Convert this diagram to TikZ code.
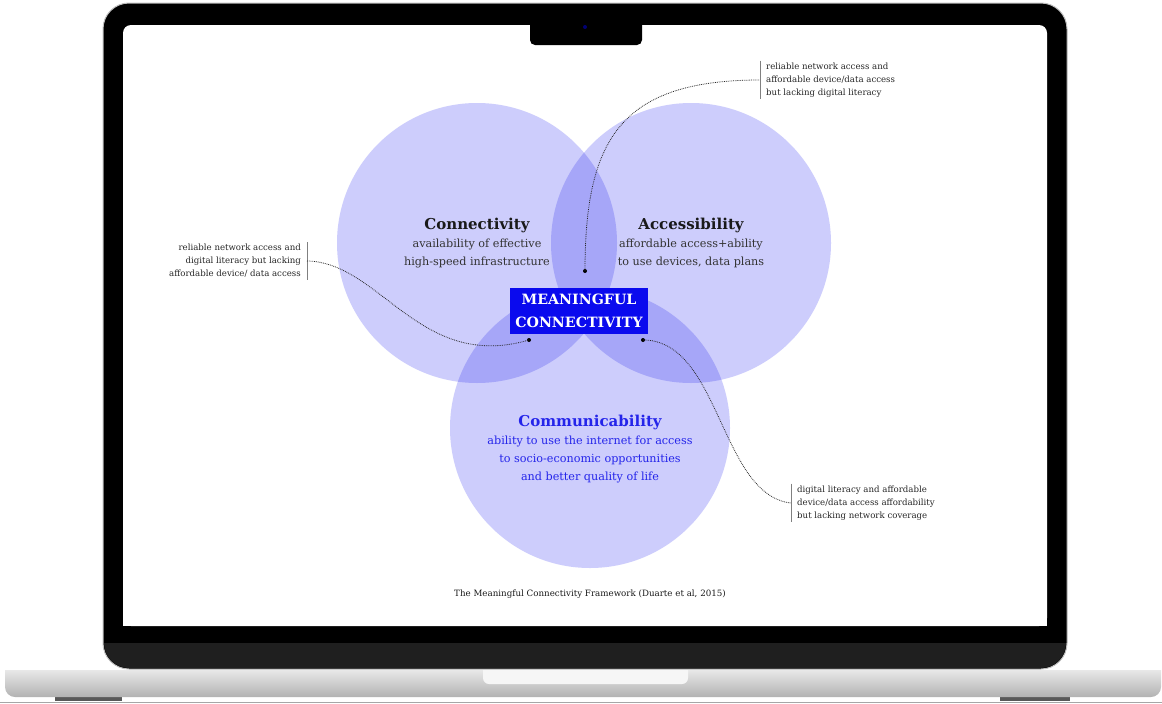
\documentclass[tikz,border=0pt]{standalone}
\usepackage{fontspec}
\setmainfont{DejaVu Serif}
\usepackage{tikz}
\usetikzlibrary{positioning, calc}

\definecolor{vennone}{HTML}{CDCDFC}
\definecolor{venntwo}{HTML}{A6A6F8}
\definecolor{vennthree}{HTML}{8888F4}
\definecolor{mcblue}{HTML}{0A0AEE}
\definecolor{comblue}{HTML}{2424EA}
\definecolor{chin}{HTML}{1F1F1F}

\tikzset{
  title/.style={font=\bfseries\fontsize{15}{18}\selectfont, text=black!90},
  body/.style={font=\fontsize{11.2}{18}\selectfont, text=black!80, align=center},
  note/.style={font=\fontsize{8.6}{13}\selectfont, text=black!85, inner xsep=6pt, inner ysep=2pt},
  bracket/.style={gray, line width=0.8pt},
  link/.style={densely dotted, black!85, line width=0.8pt},
  dot/.style={circle, fill=black, inner sep=0pt, minimum size=4pt},
}

\begin{document}
\begin{tikzpicture}[x=1pt,y=-1pt]
\useasboundingbox (0,0) rectangle (1162,704);

% laptop base, feet and table line
\fill[gray!70!black] (55,696) rectangle (122,701);
\fill[gray!70!black] (1000,696) rectangle (1070,701);
\draw[gray!70] (0,702.5) -- (1162,702.5);
\shade[top color=gray!18, middle color=gray!38, bottom color=gray!60]
  (5,670) -- (1161,670) {[rounded corners=10pt] -- (1161,697) -- (5,697)} -- cycle;
\fill[gray!7] (483,670) -- (688,670) {[rounded corners=6pt] -- (688,684) -- (483,684)} -- cycle;

% lid: bezel, chin, screen, notch
\draw[fill=black, draw=gray!50, line width=1pt, rounded corners=26pt] (103,3) rectangle (1067,669);
\begin{scope}
  \clip[rounded corners=25pt] (104,4) rectangle (1066,668);
  \fill[chin] (100,643) rectangle (1070,670);
\end{scope}
\fill[white, rounded corners=8pt] (123,25) rectangle (1047,626);
\fill[white] (123,100) rectangle (1047,626);
\fill[black, rounded corners=5pt] (530,15) rectangle (642,45);
\fill[blue!45!black] (585,27) circle[radius=2pt];

% the three circles and their overlaps
\coordinate (cC) at (477,243);
\coordinate (cA) at (691,243);
\coordinate (cM) at (590,428);
\foreach \c in {cC,cA,cM}
  \fill[vennone] (\c) circle[radius=140pt];
\foreach \a/\b in {cC/cA,cA/cM,cC/cM}{
  \begin{scope}
    \clip (\a) circle[radius=140pt];
    \fill[venntwo] (\b) circle[radius=140pt];
  \end{scope}
}
\begin{scope}
  \clip (cC) circle[radius=140pt];
  \clip (cA) circle[radius=140pt];
  \fill[vennthree] (cM) circle[radius=140pt];
\end{scope}

% circle labels
\node[title] (conT) at (477,225) {Connectivity};
\node[body] (conB) at (477,253) {availability of effective\\high-speed infrastructure};
\node[title] (accT) at (691,225) {Accessibility};
\node[body] (accB) at (691,253) {affordable access+ability\\to use devices, data plans};
\node[title, text=comblue] (comT) at (590,422) {Communicability};
\node[body, text=comblue] (comB) at (590,459) {ability to use the internet for access\\to socio-economic opportunities\\and better quality of life};

\node[fill=mcblue, text=white, font=\bfseries\fontsize{14.2}{23}\selectfont, align=center,
      minimum width=138pt, minimum height=46pt, inner sep=0pt] (mc) at (579,311)
      {MEANINGFUL\\CONNECTIVITY};

% side notes
\node[note, anchor=west, align=left] (noteTop) at (760,80)
  {reliable network access and\\affordable device/data access\\but lacking digital literacy};
\node[note, anchor=east, align=right] (noteLeft) at (307,261)
  {reliable network access and\\digital literacy but lacking\\affordable device/ data access};
\node[note, anchor=west, align=left] (noteBot) at (791,503)
  {digital literacy and affordable\\device/data access affordability\\but lacking network coverage};
\draw[bracket] (noteTop.north west) -- (noteTop.south west);
\draw[bracket] (noteLeft.north east) -- (noteLeft.south east);
\draw[bracket] (noteBot.north west) -- (noteBot.south west);

% markers and dotted leaders
\node[dot] (d1) at (585,271) {};
\node[dot] (d2) at (529,340) {};
\node[dot] (d3) at (643,340) {};
\draw[link] (d1.center) .. controls (585,140) and (620,80) .. (noteTop.west);
\draw[link] (noteLeft.east) .. controls (380,262) and (420,372) .. (d2.center);
\draw[link] (d3.center) .. controls (720,340) and (720,495) .. (noteBot.west);

\node[font=\fontsize{8.7}{10}\selectfont, text=black!90] (cap) at (590,594)
  {The Meaningful Connectivity Framework (Duarte et al, 2015)};
\end{tikzpicture}
\end{document}
